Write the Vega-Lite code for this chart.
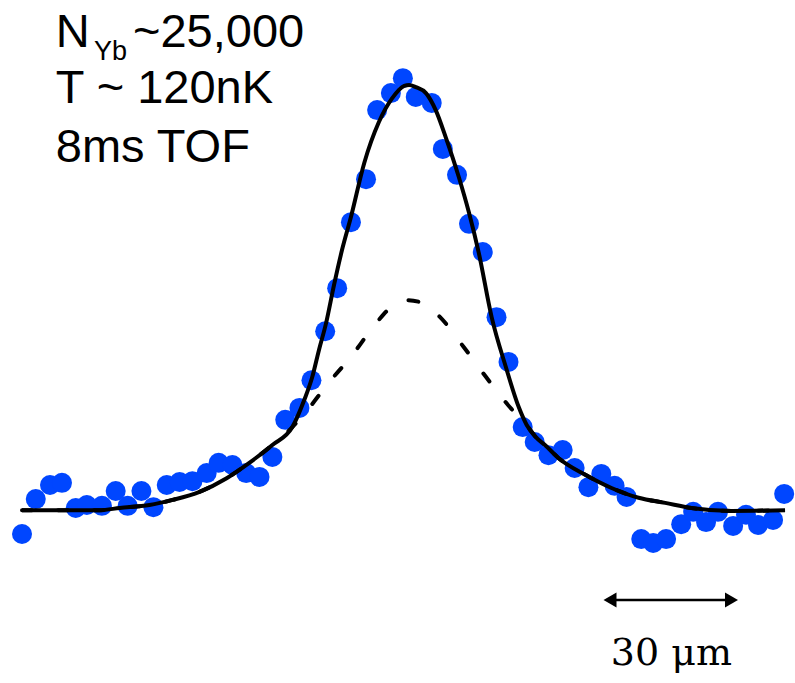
{
  "$schema": "https://vega.github.io/schema/vega-lite/v6.json",
  "width": 795,
  "height": 683,
  "autosize": {"type": "fit", "contains": "padding"},
  "padding": 0,
  "background": "white",
  "config": {"view": {"stroke": null}},
  "datasets": {
    "profile": [
      {"x": -86.5, "od": -0.054}, {"x": -83.4, "od": 0.028}, {"x": -80.2, "od": 0.061}, {"x": -77.5, "od": 0.066},
      {"x": -74.4, "od": 0.007}, {"x": -71.9, "od": 0.014}, {"x": -68.5, "od": 0.012}, {"x": -65.4, "od": 0.047},
      {"x": -62.7, "od": 0.012}, {"x": -59.6, "od": 0.047}, {"x": -56.9, "od": 0.009}, {"x": -53.9, "od": 0.061},
      {"x": -51.0, "od": 0.068}, {"x": -48.1, "od": 0.070}, {"x": -44.9, "od": 0.089}, {"x": -42.2, "od": 0.113},
      {"x": -39.1, "od": 0.108}, {"x": -36.0, "od": 0.089}, {"x": -33.0, "od": 0.080}, {"x": -30.1, "od": 0.127},
      {"x": -27.2, "od": 0.214}, {"x": -24.0, "od": 0.242}, {"x": -21.3, "od": 0.307}, {"x": -18.2, "od": 0.422},
      {"x": -15.5, "od": 0.523}, {"x": -12.4, "od": 0.678}, {"x": -9.0, "od": 0.779}, {"x": -6.5, "od": 0.941},
      {"x": -3.4, "od": 0.981}, {"x": -0.7, "od": 1.016}, {"x": 2.2, "od": 0.972}, {"x": 5.8, "od": 0.958},
      {"x": 8.3, "od": 0.850}, {"x": 11.5, "od": 0.789}, {"x": 14.2, "od": 0.674}, {"x": 17.3, "od": 0.608},
      {"x": 20.4, "od": 0.455}, {"x": 23.1, "od": 0.350}, {"x": 26.3, "od": 0.197}, {"x": 29.0, "od": 0.162},
      {"x": 32.1, "od": 0.131}, {"x": 35.3, "od": 0.143}, {"x": 38.0, "od": 0.101}, {"x": 41.1, "od": 0.056},
      {"x": 44.0, "od": 0.087}, {"x": 47.0, "od": 0.059}, {"x": 49.7, "od": 0.033}, {"x": 53.0, "od": -0.066},
      {"x": 55.7, "od": -0.075}, {"x": 58.6, "od": -0.066}, {"x": 62.0, "od": -0.031}, {"x": 64.7, "od": -0.002},
      {"x": 67.6, "od": -0.026}, {"x": 70.3, "od": -0.002}, {"x": 73.7, "od": -0.035}, {"x": 76.6, "od": -0.009},
      {"x": 79.3, "od": -0.033}, {"x": 82.7, "od": -0.021}, {"x": 85.2, "od": 0.040}
    ],
    "fit": [
      {"x": -86.5, "od": 0.002}, {"x": -75.7, "od": 0.002}, {"x": -69.0, "od": 0.002}, {"x": -64.5, "od": 0.007},
      {"x": -57.8, "od": 0.014}, {"x": -52.6, "od": 0.026}, {"x": -46.5, "od": 0.045}, {"x": -40.4, "od": 0.077},
      {"x": -35.3, "od": 0.113}, {"x": -30.1, "od": 0.155}, {"x": -25.6, "od": 0.197}, {"x": -22.9, "od": 0.261},
      {"x": -21.1, "od": 0.315}, {"x": -19.6, "od": 0.378}, {"x": -18.0, "od": 0.441}, {"x": -16.2, "od": 0.531},
      {"x": -14.4, "od": 0.613}, {"x": -12.4, "od": 0.690}, {"x": -9.4, "od": 0.817}, {"x": -6.1, "od": 0.913},
      {"x": -3.1, "od": 0.969}, {"x": -0.4, "od": 0.998}, {"x": 0.7, "od": 1.000}, {"x": 2.2, "od": 0.995},
      {"x": 4.5, "od": 0.981}, {"x": 6.7, "od": 0.941}, {"x": 9.0, "od": 0.876}, {"x": 11.9, "od": 0.784},
      {"x": 14.2, "od": 0.700}, {"x": 16.4, "od": 0.606}, {"x": 19.3, "od": 0.455}, {"x": 22.5, "od": 0.338},
      {"x": 25.4, "od": 0.244}, {"x": 27.2, "od": 0.202}, {"x": 29.2, "od": 0.174}, {"x": 31.5, "od": 0.153},
      {"x": 34.4, "od": 0.124}, {"x": 40.4, "od": 0.085}, {"x": 46.3, "od": 0.054}, {"x": 52.4, "od": 0.031},
      {"x": 58.4, "od": 0.019}, {"x": 64.3, "od": 0.007}, {"x": 73.3, "od": 0.000}, {"x": 85.4, "od": 0.002}
    ],
    "thermal": [
      {"x": -86.5, "od": 0.002}, {"x": -75.7, "od": 0.002}, {"x": -69.0, "od": 0.002}, {"x": -64.5, "od": 0.007},
      {"x": -57.8, "od": 0.014}, {"x": -52.6, "od": 0.026}, {"x": -46.5, "od": 0.045}, {"x": -40.4, "od": 0.077},
      {"x": -35.3, "od": 0.113}, {"x": -30.1, "od": 0.155}, {"x": -25.6, "od": 0.197}, {"x": -24.7, "od": 0.207},
      {"x": -22.2, "od": 0.237}, {"x": -17.8, "od": 0.296}, {"x": -12.1, "od": 0.366}, {"x": -6.5, "od": 0.444},
      {"x": -2.7, "od": 0.484}, {"x": 0.2, "od": 0.495}, {"x": 2.9, "od": 0.491}, {"x": 7.2, "od": 0.460},
      {"x": 13.0, "od": 0.385}, {"x": 18.0, "od": 0.315}, {"x": 23.8, "od": 0.239}, {"x": 27.2, "od": 0.202},
      {"x": 29.2, "od": 0.174}, {"x": 31.5, "od": 0.153}, {"x": 34.4, "od": 0.124}, {"x": 40.4, "od": 0.085},
      {"x": 46.3, "od": 0.054}, {"x": 52.4, "od": 0.031}, {"x": 58.4, "od": 0.019}, {"x": 64.3, "od": 0.007},
      {"x": 73.3, "od": 0.000}, {"x": 85.4, "od": 0.002}
    ]
  },
  "encoding": {
    "x": {"type": "quantitative", "scale": {"domain": [-91.46, 87.19], "nice": false, "zero": false}, "axis": null},
    "y": {"type": "quantitative", "scale": {"domain": [-0.4038, 1.1995], "nice": false, "zero": false}, "axis": null}
  },
  "layer": [
    {
      "data": {"name": "profile"},
      "mark": {"type": "point", "shape": "circle", "filled": true, "size": 400, "color": "#0046ff", "opacity": 1},
      "encoding": {"x": {"field": "x"}, "y": {"field": "od"}}
    },
    {
      "data": {"name": "thermal"},
      "mark": {"type": "line", "interpolate": "monotone", "color": "black", "strokeWidth": 4, "strokeDash": [10, 26], "strokeCap": "round"},
      "encoding": {"x": {"field": "x"}, "y": {"field": "od"}}
    },
    {
      "data": {"name": "fit"},
      "mark": {"type": "line", "interpolate": "monotone", "color": "black", "strokeWidth": 4},
      "encoding": {"x": {"field": "x"}, "y": {"field": "od"}}
    },
    {
      "data": {"values": [{}]},
      "layer": [
        {
          "mark": {"type": "text", "text": "N", "font": "Liberation Sans", "fontSize": 47, "align": "left", "baseline": "alphabetic", "color": "black"},
          "encoding": {"x": {"datum": -78.9}, "y": {"datum": 1.089}}
        },
        {
          "mark": {"type": "text", "text": "Yb", "font": "Liberation Sans", "fontSize": 27, "align": "left", "baseline": "alphabetic", "color": "black"},
          "encoding": {"x": {"datum": -70.3}, "y": {"datum": 1.0587}}
        },
        {
          "mark": {"type": "text", "text": "~25,000", "font": "Liberation Sans", "fontSize": 47, "align": "left", "baseline": "alphabetic", "color": "black"},
          "encoding": {"x": {"datum": -61.5}, "y": {"datum": 1.089}}
        },
        {
          "mark": {"type": "text", "text": "T ~ 120nK", "font": "Liberation Sans", "fontSize": 47, "align": "left", "baseline": "alphabetic", "color": "black"},
          "encoding": {"x": {"datum": -78.9}, "y": {"datum": 0.958}}
        },
        {
          "mark": {"type": "text", "text": "8ms TOF", "font": "Liberation Sans", "fontSize": 47, "align": "left", "baseline": "alphabetic", "color": "black"},
          "encoding": {"x": {"datum": -78.9}, "y": {"datum": 0.819}}
        },
        {
          "mark": {"type": "rule", "color": "black", "strokeWidth": 2.5},
          "encoding": {"x": {"datum": 45.5}, "x2": {"datum": 73.8}, "y": {"datum": -0.209}}
        },
        {
          "mark": {"type": "point", "shape": "triangle-left", "filled": true, "size": 225, "color": "black", "opacity": 1, "xOffset": 6.5},
          "encoding": {"x": {"datum": 44.5}, "y": {"datum": -0.209}}
        },
        {
          "mark": {"type": "point", "shape": "triangle-right", "filled": true, "size": 225, "color": "black", "opacity": 1, "xOffset": -6.5},
          "encoding": {"x": {"datum": 74.8}, "y": {"datum": -0.209}}
        },
        {
          "mark": {"type": "text", "text": "30 μm", "font": "DejaVu Serif", "fontSize": 38, "align": "center", "baseline": "alphabetic", "color": "black"},
          "encoding": {"x": {"datum": 59.8}, "y": {"datum": -0.3615}}
        }
      ]
    }
  ]
}
